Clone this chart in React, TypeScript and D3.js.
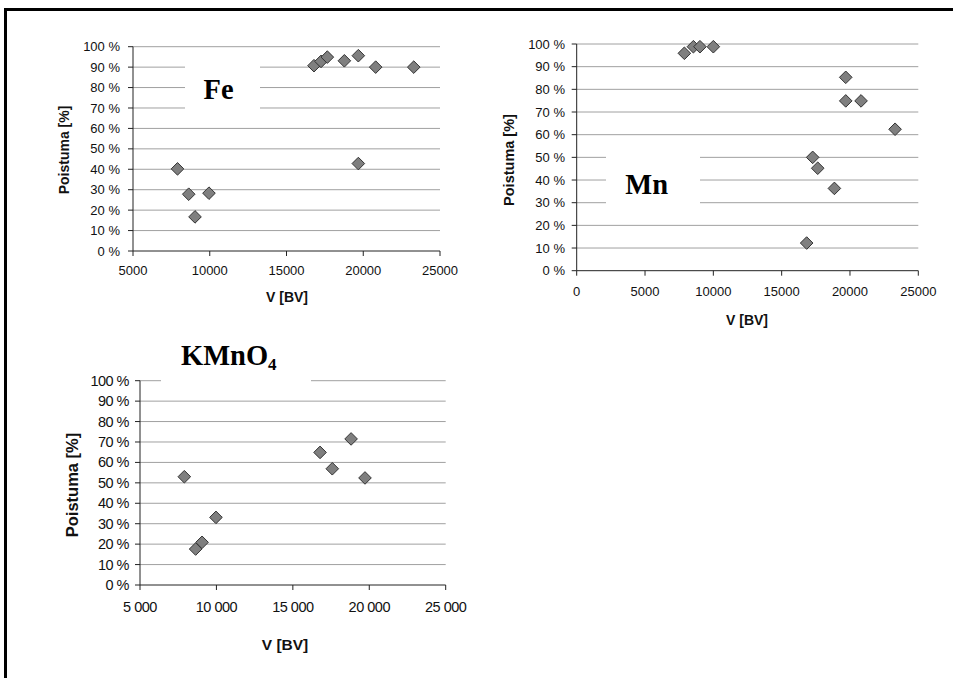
import React from "react";
import * as d3 from "d3";

// ---- Data ----
const feV = [7900, 8630, 9040, 9950, 16790, 17250, 17660, 18770, 19680, 20810, 23290, 19680];
const feP = [40.2, 27.8, 16.7, 28.3, 90.7, 92.8, 94.9, 93.1, 95.6, 90.0, 90.0, 42.8];

const mnV = [7880, 8540, 9020, 10000, 19690, 19690, 20810, 23300, 17270, 17640, 18860, 16830];
const mnP = [95.9, 98.8, 98.8, 98.8, 85.3, 74.9, 74.9, 62.4, 50.0, 45.2, 36.3, 12.2];

const kV = [7900, 8640, 9060, 9970, 16780, 17580, 18810, 19720];
const kP = [53.0, 17.6, 20.9, 33.1, 64.9, 56.9, 71.5, 52.4];

const pctTicks = [0, 10, 20, 30, 40, 50, 60, 70, 80, 90, 100];
const feXTicks = [5000, 10000, 15000, 20000, 25000];
const mnXTicks = [0, 5000, 10000, 15000, 20000, 25000];
const kXTicks = [5000, 10000, 15000, 20000, 25000];

const SANS = "'Liberation Sans', Arial, sans-serif";
const SERIF = "'Liberation Serif', 'Times New Roman', serif";

type PanelProps = {
  xs: number[];
  ys: number[];
  xTicks: number[];
  xDomain: [number, number];
  left: number;
  right: number;
  top: number;
  bottom: number;
  xFmt: (v: number) => string;
  tickFont: number;
  tickSpacing?: number;
  labelFont: number;
  yLabelFont: number;
  yLabelX: number;
  yLabelY: number;
  xLabelX: number;
  xLabelY: number;
  tickLabelY: number;
  yTickRight: number;
  gap: { x0: number; x1: number; y0: number; y1: number };
};

function Panel(p: PanelProps) {
  const x = d3.scaleLinear().domain(p.xDomain).range([p.left, p.right]);
  const y = d3.scaleLinear().domain([0, 100]).range([p.bottom, p.top]);
  const diamond = (cx: number, cy: number) => {
    const r = 6.3;
    return `M${cx},${cy - r}L${cx + r},${cy}L${cx},${cy + r}L${cx - r},${cy}Z`;
  };
  return (
    <g>
      {pctTicks.filter((t) => t > 0).map((t) => (
        <line key={"g" + t} x1={p.left} x2={p.right} y1={y(t)} y2={y(t)} stroke="#a0a0a0" strokeWidth={1} />
      ))}
      <rect x={p.gap.x0} y={p.gap.y0} width={p.gap.x1 - p.gap.x0} height={p.gap.y1 - p.gap.y0} fill="#fff" />
      <line x1={p.left} x2={p.left} y1={p.top} y2={p.bottom} stroke="#222" strokeWidth={1} />
      <line x1={p.left} x2={p.right} y1={p.bottom} y2={p.bottom} stroke="#222" strokeWidth={1} />
      {pctTicks.map((t) => (
        <g key={"yt" + t}>
          <line x1={p.left - 5} x2={p.left} y1={y(t)} y2={y(t)} stroke="#222" />
          <text x={p.yTickRight} y={y(t)} dy="0.35em" textAnchor="end" fontFamily={SANS} fontSize={p.tickFont} letterSpacing={p.tickSpacing || 0} fill="#111">
            {t + " %"}
          </text>
        </g>
      ))}
      {p.xTicks.map((t) => (
        <g key={"xt" + t}>
          <line x1={x(t)} x2={x(t)} y1={p.bottom} y2={p.bottom + 5} stroke="#222" />
          <text x={x(t)} y={p.tickLabelY} dy="0.35em" textAnchor="middle" fontFamily={SANS} fontSize={p.tickFont} letterSpacing={p.tickSpacing || 0} fill="#111">
            {p.xFmt(t)}
          </text>
        </g>
      ))}
      <text x={p.xLabelX} y={p.xLabelY} dy="0.35em" textAnchor="middle" fontFamily={SANS} fontWeight="bold" fontSize={p.labelFont} fill="#111">
        V [BV]
      </text>
      <text transform={`translate(${p.yLabelX},${p.yLabelY}) rotate(-90)`} dy="0.35em" textAnchor="middle" fontFamily={SANS} fontWeight="bold" fontSize={p.yLabelFont} fill="#111">
        Poistuma [%]
      </text>
      {p.xs.map((v, i) => (
        <path key={"m" + i} d={diamond(x(v), y(p.ys[i]))} fill="#7f7f7f" stroke="#333" strokeWidth={1} />
      ))}
    </g>
  );
}

const plain = (v: number) => String(v);
const spaced = (v: number) => d3.format(",")(v).replace(/,/g, " ");

export default function App() {
  return (
    <svg width={953} height={678} style={{ position: "absolute", left: 0, top: 0, background: "#fff" }}>
      <rect x={0} y={0} width={953} height={678} fill="#fff" />
      <line x1={5} x2={953} y1={9.5} y2={9.5} stroke="#000" strokeWidth={3} />
      <line x1={5.5} x2={5.5} y1={8} y2={678} stroke="#000" strokeWidth={3} />

      <Panel
        xs={feV} ys={feP} xTicks={feXTicks} xDomain={[5000, 25000]}
        left={133} right={440} top={46.7} bottom={251}
        xFmt={plain} tickFont={13} labelFont={14} yLabelFont={14}
        yLabelX={64} yLabelY={150} xLabelX={287} xLabelY={297} tickLabelY={270} yTickRight={120}
        gap={{ x0: 185, x1: 260, y0: 62, y1: 114 }}
      />
      <text x={218.5} y={99} textAnchor="middle" fontFamily={SERIF} fontWeight="bold" fontSize={28.5} fill="#000">Fe</text>

      <Panel
        xs={mnV} ys={mnP} xTicks={mnXTicks} xDomain={[0, 25000]}
        left={576.7} right={918.3} top={44} bottom={270.7}
        xFmt={plain} tickFont={13} labelFont={14} yLabelFont={14.5}
        yLabelX={508.5} yLabelY={160} xLabelX={747} xLabelY={320} tickLabelY={291.5} yTickRight={565}
        gap={{ x0: 606, x1: 700, y0: 150, y1: 208 }}
      />
      <text x={646.7} y={194} textAnchor="middle" fontFamily={SERIF} fontWeight="bold" fontSize={28.5} fill="#000">Mn</text>

      <Panel
        xs={kV} ys={kP} xTicks={kXTicks} xDomain={[5000, 25000]}
        left={140} right={445.7} top={380.7} bottom={585}
        xFmt={spaced} tickFont={14.5} tickSpacing={-0.5} labelFont={15.5} yLabelFont={16.5}
        yLabelX={72} yLabelY={485} xLabelX={285} xLabelY={645} tickLabelY={606.7} yTickRight={129}
        gap={{ x0: 161, x1: 311, y0: 375, y1: 386 }}
      />
      <text x={181} y={365} fontFamily={SERIF} fontWeight="bold" fontSize={28.5} fill="#000">
        KMnO<tspan fontSize={17} dy={5}>4</tspan>
      </text>
    </svg>
  );
}
